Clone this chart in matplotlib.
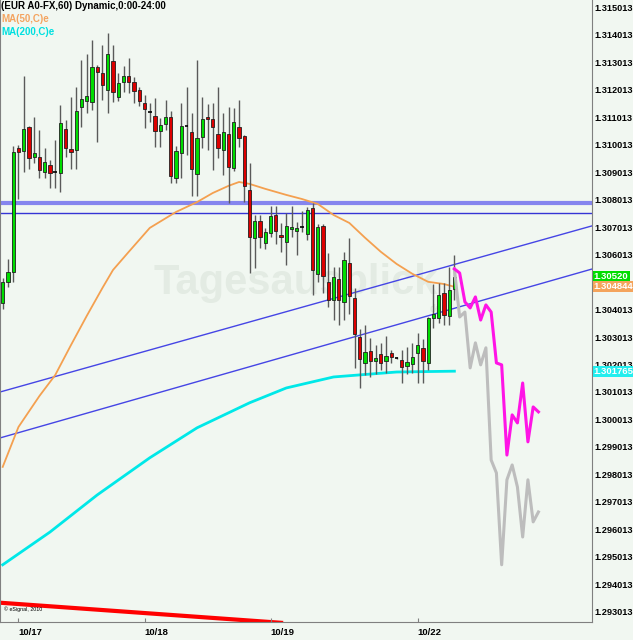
import numpy as np
import matplotlib
matplotlib.use("Agg")
import matplotlib.pyplot as plt
import matplotlib.transforms as mtransforms

# EUR A0-FX hourly candles (10/17 - 10/22)
opens = [1.30425, 1.30502, 1.30538, 1.30989, 1.30978, 1.31065, 1.30956, 1.30956, 1.30902, 1.30927,
         1.30898, 1.30898, 1.31058, 1.30985, 1.30982, 1.31138, 1.31160, 1.31156, 1.31283, 1.31262,
         1.31200, 1.31305, 1.31174, 1.31229, 1.31251, 1.31229, 1.31200, 1.31152, 1.31123, 1.31105,
         1.31051, 1.31076, 1.31102, 1.30880, 1.30971, 1.31069, 1.31047, 1.30894, 1.31029, 1.31102,
         1.31094, 1.31040, 1.30982, 1.31040, 1.30916, 1.31065, 1.31032, 1.30836, 1.30662, 1.30723,
         1.30643, 1.30680, 1.30745, 1.30672, 1.30647, 1.30694, 1.30687, 1.30705, 1.30676, 1.30771,
         1.30531, 1.30705, 1.30502, 1.30436, 1.30512, 1.30429, 1.30571, 1.30443, 1.30301, 1.30207,
         1.30251, 1.30214, 1.30240, 1.30214, 1.30243, 1.30227, 1.30218, 1.30196, 1.30203, 1.30243,
         1.30262, 1.30207, 1.30371, 1.30371, 1.30461, 1.30378, 1.30476]
highs = [1.30516, 1.30585, 1.30996, 1.30999, 1.31251, 1.31069, 1.31102, 1.31054, 1.30989, 1.30945,
         1.31018, 1.31145, 1.31091, 1.31174, 1.31211, 1.31309, 1.31331, 1.31382, 1.31290, 1.31363,
         1.31407, 1.31363, 1.31262, 1.31287, 1.31316, 1.31247, 1.31211, 1.31182, 1.31152, 1.31171,
         1.31098, 1.31163, 1.31123, 1.30996, 1.31152, 1.31211, 1.31116, 1.31309, 1.31174, 1.31149,
         1.31152, 1.31211, 1.31116, 1.31138, 1.31134, 1.31163, 1.31036, 1.30934, 1.30745, 1.30745,
         1.30698, 1.30778, 1.30778, 1.30716, 1.30752, 1.30778, 1.30720, 1.30760, 1.30774, 1.30789,
         1.30712, 1.30712, 1.30607, 1.30556, 1.30556, 1.30611, 1.30662, 1.30480, 1.30331, 1.30345,
         1.30298, 1.30272, 1.30280, 1.30305, 1.30254, 1.30229, 1.30254, 1.30265, 1.30280, 1.30316,
         1.30294, 1.30374, 1.30494, 1.30498, 1.30498, 1.30556, 1.30600]
lows = [1.30403, 1.30483, 1.30502, 1.30803, 1.30902, 1.30912, 1.30934, 1.30880, 1.30880, 1.30843,
        1.30843, 1.30829, 1.30956, 1.30912, 1.30912, 1.31065, 1.31116, 1.31127, 1.31011, 1.31163,
        1.31116, 1.31156, 1.31160, 1.31192, 1.31189, 1.31152, 1.31142, 1.31062, 1.31083, 1.30992,
        1.30992, 1.31054, 1.30862, 1.30862, 1.30880, 1.30963, 1.30814, 1.30814, 1.30989, 1.30982,
        1.30909, 1.30952, 1.30891, 1.30789, 1.30905, 1.30992, 1.30792, 1.30534, 1.30552, 1.30625,
        1.30622, 1.30665, 1.30640, 1.30611, 1.30563, 1.30665, 1.30600, 1.30683, 1.30654, 1.30454,
        1.30502, 1.30461, 1.30411, 1.30363, 1.30345, 1.30363, 1.30385, 1.30189, 1.30116, 1.30163,
        1.30156, 1.30167, 1.30182, 1.30171, 1.30207, 1.30222, 1.30134, 1.30167, 1.30171, 1.30134,
        1.30134, 1.30182, 1.30334, 1.30352, 1.30345, 1.30345, 1.30436]
closes = [1.30502, 1.30538, 1.30974, 1.30974, 1.31058, 1.30952, 1.30971, 1.30909, 1.30938, 1.30898,
          1.30900, 1.31080, 1.30989, 1.30974, 1.31123, 1.31167, 1.31178, 1.31283, 1.31265, 1.31218,
          1.31331, 1.31192, 1.31225, 1.31251, 1.31229, 1.31196, 1.31160, 1.31131, 1.31121, 1.31051,
          1.31072, 1.31102, 1.30887, 1.30978, 1.31069, 1.31067, 1.30912, 1.31025, 1.31094, 1.31094,
          1.31065, 1.30989, 1.31047, 1.30920, 1.31083, 1.31025, 1.30851, 1.30665, 1.30723, 1.30665,
          1.30683, 1.30741, 1.30687, 1.30665, 1.30705, 1.30701, 1.30698, 1.30703, 1.30763, 1.30545,
          1.30701, 1.30523, 1.30436, 1.30520, 1.30436, 1.30582, 1.30451, 1.30312, 1.30222, 1.30247,
          1.30214, 1.30225, 1.30207, 1.30232, 1.30229, 1.30225, 1.30192, 1.30211, 1.30229, 1.30272,
          1.30214, 1.30371, 1.30385, 1.30454, 1.30381, 1.30472, 1.30520]

# moving averages
ma50_idx = [0, 3, 7, 10, 13, 16, 19, 21, 24, 28, 33, 37, 40, 43, 45, 47, 50, 54, 57, 60,
            63, 66, 69, 72, 75, 78, 81, 84, 86]
ma50_val = [1.29829, 1.29974, 1.30087, 1.30163, 1.30272, 1.30378, 1.30480, 1.30545, 1.30611, 1.30698,
            1.30756, 1.30792, 1.30825, 1.30851, 1.30865, 1.30858, 1.30840, 1.30818, 1.30803, 1.30785,
            1.30745, 1.30716, 1.30662, 1.30611, 1.30567, 1.30531, 1.30502, 1.30494, 1.30484]
ma200_idx = [0, 9, 18, 28, 37, 47, 54, 63, 75, 86]
ma200_val = [1.29473, 1.29592, 1.29727, 1.29862, 1.29971, 1.30062, 1.30116, 1.30156, 1.30174, 1.30177]

# forecast paths
fc_idx = list(range(86, 103))
fc_magenta = [1.30549, 1.30534, 1.30429, 1.30407, 1.30447, 1.30363, 1.30418, 1.30392, 1.30207,
              1.30200, 1.29872, 1.30018, 1.29989, 1.30134, 1.29920, 1.30047, 1.30029]
fc_gray = [1.30549, 1.30374, 1.30392, 1.30189, 1.30280, 1.30200, 1.30262, 1.29854, 1.29807,
           1.29473, 1.29782, 1.29836, 1.29756, 1.29574, 1.29782, 1.29629, 1.29665]

# drawn lines
hline_thick = 1.30789
hline_thin = 1.30751
channel_upper = [(0, 1.30104), (100, 1.30640)]
channel_lower = [(0, 1.29937), (100, 1.30482)]
red_line = [(-0.5, 1.29335), (53, 1.29262)]

day_ticks = [3, 27, 51, 79]
day_labels = ["10/17", "10/18", "10/19", "10/22"]
price_ticks = np.arange(22, -1, -1) * 0.001 + 1.293013
hidden_tick = "1.305013"   # covered by the last-price boxes

last_labels = [(1.30520, "1.30520", "#00dd00"),
               (1.304844, "1.304844", "#f4a45c"),
               (1.301765, "1.301765", "#22eeee")]

bg = "#f1f7f1"
plt.rcParams["font.family"] = ["Liberation Sans", "DejaVu Sans"]

fig = plt.figure(figsize=(6.33, 6.40), dpi=100, facecolor=bg)
ax = fig.add_axes([0, 18 / 640, 592 / 633, 622 / 640], facecolor=bg)

x = np.arange(len(opens))
o = np.array(opens); h = np.array(highs); l = np.array(lows); c = np.array(closes)

# watermark
ax.text(0.5, 0.545, "Tagesausblick", transform=ax.transAxes, ha="center", va="center",
        fontsize=30, fontweight="bold", color="#e3ebe3", zorder=0)
ax.text(0.735, 0.503, "de", transform=ax.transAxes, ha="center", va="center",
        fontsize=7, fontweight="bold", color="#dde9dd", zorder=0)

ax.axhline(hline_thick, color="#8585ee", lw=3, zorder=1)
ax.axhline(hline_thin, color="#3535d5", lw=1, zorder=1)
ax.axline(channel_upper[0], channel_upper[1], color="#4545e5", lw=1, zorder=1)
ax.axline(channel_lower[0], channel_lower[1], color="#4545e5", lw=1, zorder=1)
ax.plot([p[0] for p in red_line], [p[1] for p in red_line], color="#ff0000", lw=3, zorder=1)

ax.plot(ma200_idx, ma200_val, color="#00e8e8", lw=2, zorder=2)
ax.plot(ma50_idx, ma50_val, color="#f4a050", lw=1.3, zorder=2)

# candles
ax.vlines(x, l, h, color="#5a5a5a", lw=1, zorder=3)
doji = np.abs(c - o) < 0.00003
up = (c >= o) & ~doji
dn = (c < o) & ~doji
ax.bar(x[up], (c - o)[up], bottom=o[up], width=0.62, color="#00dd00",
       edgecolor="#202020", lw=0.6, zorder=4)
ax.bar(x[dn], (c - o)[dn], bottom=o[dn], width=0.62, color="#dd0000",
       edgecolor="#202020", lw=0.6, zorder=4)
ax.hlines(c[doji], x[doji] - 0.35, x[doji] + 0.35, color="black", lw=1.2, zorder=4)

ax.plot(fc_idx, fc_gray, color="#bdbdbd", lw=2.2, zorder=5)
ax.plot(fc_idx, fc_magenta, color="#ff14e6", lw=2.2, zorder=6)

ax.set_xlim(-0.514, 112.2)
ax.set_ylim(1.292649, 1.315268)

ax.yaxis.tick_right()
ax.set_yticks(price_ticks)
ax.set_yticklabels(["" if "%.6f" % v == hidden_tick else "%.6f" % v for v in price_ticks])
ax.tick_params(axis="y", length=0, pad=2, labelsize=6.6)
for t in ax.get_yticklabels():
    t.set_fontweight("bold")

ax.set_xticks(day_ticks)
ax.set_xticklabels(day_labels)
ax.tick_params(axis="x", direction="in", length=3, pad=4, labelsize=6.8, color="#808080")
for t in ax.get_xticklabels():
    t.set_fontweight("bold")
    t.set_horizontalalignment("left")

for s in ["left", "right", "bottom"]:
    ax.spines[s].set_color("#808080")
ax.spines["top"].set_visible(False)

trans = mtransforms.blended_transform_factory(ax.transAxes, ax.transData)
for val, txt, col in last_labels:
    ax.text(1.003, val, txt, transform=trans, ha="left", va="center", fontsize=6.8,
            fontweight="bold", color="white", clip_on=False, zorder=10,
            bbox=dict(boxstyle="square,pad=0.12", fc=col, ec="none"))

ax.text(0.002, 0.998, "(EUR A0-FX,60) Dynamic,0:00-24:00", transform=ax.transAxes,
        ha="left", va="top", fontsize=7, fontweight="bold", color="black", zorder=10)
ax.text(0.002, 0.977, "MA(50,C)e", transform=ax.transAxes, ha="left", va="top",
        fontsize=7, fontweight="bold", color="#f4a460", zorder=10)
ax.text(0.002, 0.956, "MA(200,C)e", transform=ax.transAxes, ha="left", va="top",
        fontsize=7, fontweight="bold", color="#00e0e0", zorder=10)
ax.text(0.006, 0.016, "\u00a9 eSignal, 2010", transform=ax.transAxes, ha="left", va="bottom",
        fontsize=3.8, color="black", zorder=10)

fig.savefig("out.png", dpi=100, facecolor=bg)
